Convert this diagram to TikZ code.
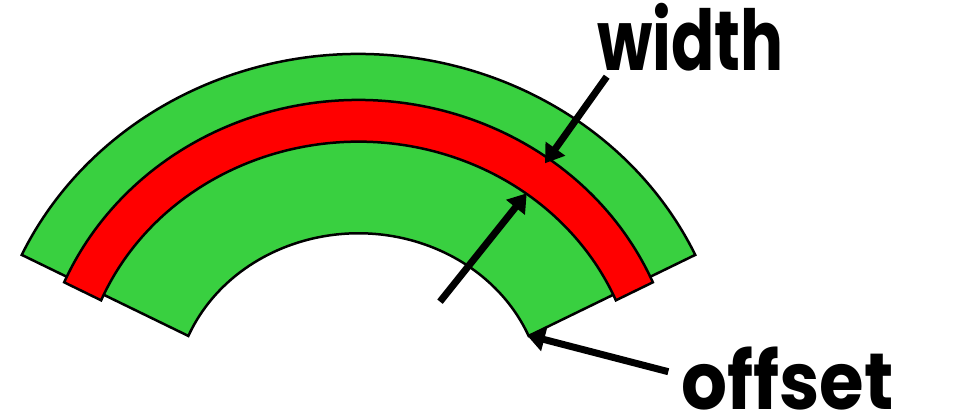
\documentclass[tikz,border=0pt]{standalone}
\usepackage{fontspec}
\setmainfont{Poppins}
\usetikzlibrary{arrows.meta,calc}
\definecolor{bandgreen}{RGB}{57,208,64}
\definecolor{bandred}{RGB}{255,0,0}
\tikzset{
  bandline/.style={draw=black,line width=2.5pt,line join=miter},
  pointer/.style={draw=black,line width=7pt,-{Triangle[length=18pt,width=23pt]}},
  label/.style={font=\fontsize{84}{84}\selectfont\bfseries,inner sep=0pt,anchor=base west}
}
\begin{document}
\begin{tikzpicture}[x=1pt,y=1pt]
\useasboundingbox (0,0) rectangle (960,417);
\coordinate (c) at (358.5,17);
% green band
\path[bandline,fill=bandgreen]
  ($(c)+(24.8:371 and 346)$) arc[start angle=24.8,end angle=155.2,x radius=371,y radius=346]
  -- ($(c)+(157.4:184.3 and 166.7)$) arc[start angle=157.4,end angle=22.6,x radius=184.3,y radius=166.7]
  -- cycle;
% red band
\path[bandline,fill=bandred]
  ($(c)+(23.1:320 and 300)$) arc[start angle=23.1,end angle=156.9,x radius=320,y radius=300]
  -- ($(c)+(157.3:279 and 258.3)$) arc[start angle=157.3,end angle=22.7,x radius=279,y radius=258.3]
  -- cycle;
% labels
\node[label,xscale=0.76] (w) at (597,346) {width};
\node[label,xscale=0.86,yscale=0.95] (o) at (681,7) {offset};
% arrows
\coordinate (wt) at (606.7,340.3);
\coordinate (wh) at (545,253.7);
\coordinate (it) at (440,115.3);
\coordinate (ih) at (526.7,223.7);
\coordinate (ot) at (668.3,45.3);
\coordinate (oh) at (526.7,82);
\draw[pointer] (wt) -- (wh);
\draw[pointer] (it) -- (ih);
\draw[pointer] (ot) -- (oh);
\end{tikzpicture}
\end{document}
